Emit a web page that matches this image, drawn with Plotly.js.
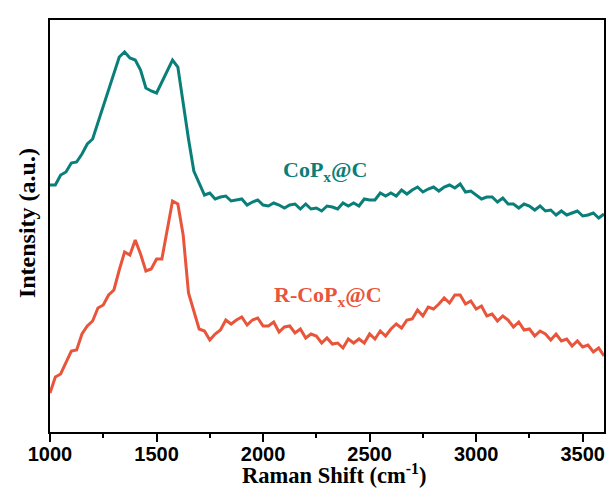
<!DOCTYPE html>
<html>
<head>
<meta charset="utf-8">
<script src="https://cdn.plot.ly/plotly-3.0.1.min.js"></script>
<style>html,body{margin:0;padding:0;background:#fff;}#chart{width:611px;height:488px;}</style>
</head>
<body>
<div id="chart"></div>
<script>
// Raman shift (cm^-1)
const ramanShift = [1000,1025,1050,1075,1100,1125,1150,1175,1200,1225,1250,1275,1300,1325,1350,1375,1400,1425,1450,1475,1500,1525,1550,1575,1600,1625,1650,1675,1700,1725,1750,1775,1800,1825,1850,1875,1900,1925,1950,1975,2000,2025,2050,2075,2100,2125,2150,2175,2200,2225,2250,2275,2300,2325,2350,2375,2400,2425,2450,2475,2500,2525,2550,2575,2600,2625,2650,2675,2700,2725,2750,2775,2800,2825,2850,2875,2900,2925,2950,2975,3000,3025,3050,3075,3100,3125,3150,3175,3200,3225,3250,3275,3300,3325,3350,3375,3400,3425,3450,3475,3500,3525,3550,3575,3600];

// CoPx@C intensity (a.u., offset)
const copxC = [247,247,257,260,269,270,278,288,293,309,325,341,359,375,380,374,372,362,344,341,339,350,360,372,365,328,293,261,249,237,239,233,235,236,231,232,233,227,230,232,227,226,229,227,224,227,228,223,228,223,224,221,226,225,223,229,226,229,226,233,232,232,239,236,239,236,242,238,242,245,240,243,245,241,245,247,244,248,240,241,237,233,235,235,230,234,228,228,224,228,226,222,226,221,222,217,221,217,219,221,216,217,219,214,218];

// R-CoPx@C intensity (a.u., offset)
const rCopxC = [39,55,58,69,81,82,98,106,111,124,127,137,142,162,180,177,192,178,161,163,173,173,204,231,228,197,139,121,103,101,92,98,102,112,108,112,115,107,112,114,106,106,110,100,105,106,99,103,94,98,96,89,94,88,89,84,93,89,93,89,98,93,101,96,103,108,104,112,113,122,116,125,123,128,134,129,137,137,128,131,123,126,116,118,111,116,112,105,110,102,103,96,101,98,92,98,91,93,86,91,85,87,80,84,76];

const xTickValues = [1000, 1500, 2000, 2500, 3000, 3500];
const xTickLabels = ["1000", "1500", "2000", "2500", "3000", "3500"];

const seriesNames = ["CoP<sub>x</sub>@C", "R-CoP<sub>x</sub>@C"];
const tealColor = "#0a7f7a";
const redColor = "#e8553b";

const traces = [
  {x: ramanShift, y: copxC, type: "scatter", mode: "lines", name: seriesNames[0],
   line: {color: tealColor, width: 3}},
  {x: ramanShift, y: rCopxC, type: "scatter", mode: "lines", name: seriesNames[1],
   line: {color: redColor, width: 3}}
];

const serif = "Liberation Serif, Times New Roman, serif";
const xRange = [1000, 3600];
const layout = {
  width: 611, height: 488,
  margin: {l: 50, r: 7, t: 20, b: 56},
  paper_bgcolor: "#ffffff", plot_bgcolor: "#ffffff",
  showlegend: false,
  xaxis: {
    range: xRange, tickmode: "array", tickvals: xTickValues, showticklabels: false,
    ticks: "outside", ticklen: 8, tickwidth: 2, tickcolor: "#000",
    minor: {dtick: 250, ticks: "outside", ticklen: 4, tickwidth: 2, tickcolor: "#000", showgrid: false},
    showline: true, linecolor: "#000", linewidth: 2, mirror: true,
    showgrid: false, zeroline: false, automargin: false
  },
  xaxis2: {
    overlaying: "x", side: "bottom", anchor: "y", matches: "x",
    range: xRange, tickmode: "array", tickvals: xTickValues, ticktext: xTickLabels,
    ticks: "outside", ticklen: 4, tickcolor: "rgba(0,0,0,0)",
    showline: false, showgrid: false, zeroline: false, automargin: false,
    tickfont: {family: "Liberation Sans, Arial, sans-serif", size: 20, color: "#000", weight: "bold"}
  },
  yaxis: {
    range: [0, 412],
    showticklabels: false, ticks: "",
    showline: true, linecolor: "#000", linewidth: 2, mirror: true,
    showgrid: false, zeroline: false, automargin: false
  },
  annotations: [
    {text: "<b>Raman Shift (cm<sup>-1</sup>)</b>", xref: "x", yref: "paper", x: 2335, y: 0,
     yanchor: "top", xanchor: "center", yshift: -26, showarrow: false,
     font: {family: serif, size: 22.5, color: "#000"}},
    {text: "<b>Intensity (a.u.)</b>", xref: "paper", yref: "paper", x: 0, y: 0.507,
     xanchor: "center", yanchor: "middle", xshift: -23, textangle: -90, showarrow: false,
     font: {family: serif, size: 24, color: "#000"}},
    {text: "<b>" + seriesNames[0] + "</b>", xref: "x", yref: "y", x: 2290, y: 261,
     showarrow: false, font: {family: serif, size: 22, color: tealColor}},
    {text: "<b>" + seriesNames[1] + "</b>", xref: "x", yref: "y", x: 2305, y: 136,
     showarrow: false, font: {family: serif, size: 22, color: redColor}}
  ]
};

// invisible carrier trace so the label axis is drawn
traces.push({x: xRange, y: [null, null], xaxis: "x2", yaxis: "y", type: "scatter", mode: "lines",
  hoverinfo: "skip", showlegend: false});

Plotly.newPlot("chart", traces, layout, {displayModeBar: false, staticPlot: true});
</script>
</body>
</html>
